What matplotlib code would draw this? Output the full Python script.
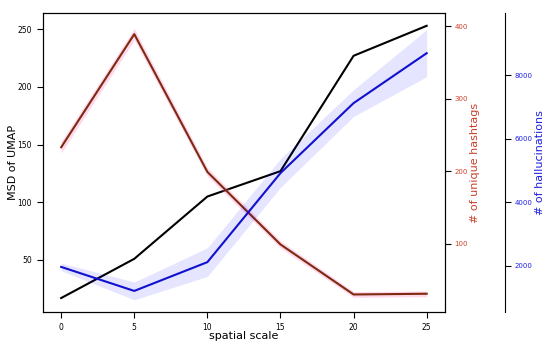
import numpy as np
import matplotlib
matplotlib.use("Agg")
import matplotlib.pyplot as plt

# data
scale = [0, 5, 10, 15, 20, 25]
msd = [17, 51, 105, 127, 227, 253]
hashtags = [233, 389, 199, 99, 30, 31]
hashtags_err = [8, 8, 6, 5, 4, 4]
halluc = [1970, 1215, 2120, 4920, 7120, 8690]
halluc_err = [120, 280, 450, 450, 420, 740]

fig, ax = plt.subplots(figsize=(5.5, 3.45), dpi=100)
fig.subplots_adjust(left=0.078, right=0.809, bottom=0.096, top=0.962)

ax.plot(scale, msd, color="black", lw=1.5)
ax.set_xlabel("spatial scale", fontsize=8, labelpad=-0.5)
ax.set_ylabel("MSD of UMAP", fontsize=8)
ax.yaxis.set_label_coords(-0.062, 0.5)
ax.set_xticks(scale)
ax.tick_params(labelsize=5.5, length=4.5)

# second axis: unique hashtags
ax2 = ax.twinx()
h = np.array(hashtags)
he = np.array(hashtags_err)
ax2.fill_between(scale, h - he, h + he, color="#ff80c0", alpha=0.3, lw=0)
ax2.plot(scale, hashtags, color="#7e2a10", lw=1.5)
ax2.set_ylabel("# of unique hashtags", color="#c8402a", fontsize=8)
ax2.yaxis.set_label_coords(1.063, 0.5)
ax2.tick_params(axis="y", colors="black", labelcolor="#d0402a", labelsize=5,
                length=4.5, pad=2.5)
ax2.set_ylim(6, 418)
ax2.set_yticks([100, 200, 300, 400])

# third axis: hallucinations
ax3 = ax.twinx()
ax3.spines["right"].set_position(("axes", 1.149))
b = np.array(halluc)
be = np.array(halluc_err)
ax3.fill_between(scale, b - be, b + be, color="blue", alpha=0.1, lw=0)
ax3.plot(scale, halluc, color="#1010d0", lw=1.5)
ax3.set_ylabel("# of hallucinations", color="#2020e0", fontsize=8)
ax3.yaxis.set_label_coords(1.225, 0.5)
ax3.tick_params(axis="y", colors="black", labelcolor="#2020e0", labelsize=5,
                length=4.5, pad=2.5)
ax3.set_ylim(556, 9950)
ax3.set_yticks([2000, 4000, 6000, 8000])
for s in ["top", "bottom", "left"]:
    ax3.spines[s].set_visible(False)

ax.set_ylim(5, 264)
ax.set_xlim(-1.25, 26.25)

fig.savefig("out.png")
